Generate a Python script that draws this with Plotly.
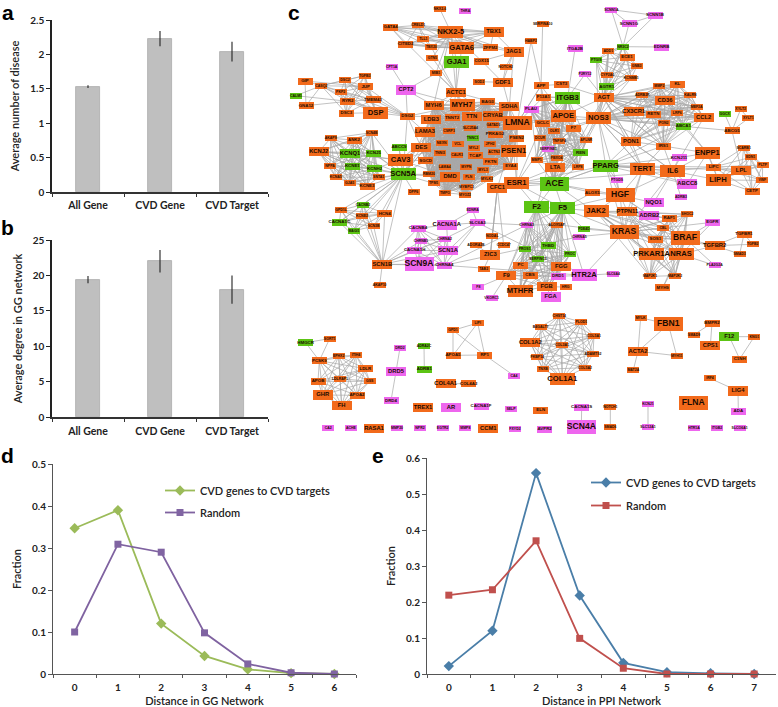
from itertools import combinations
import plotly.graph_objects as go

# ---- panels a, b
bar_categories = ["All Gene", "CVD Gene", "CVD Target"]
disease_mean = [1.53, 2.23, 2.04]
disease_err = [0.02, 0.11, 0.145]
degree_mean = [19.4, 22.0, 18.0]
degree_err = [0.5, 1.6, 2.0]

# ---- panel d
gg_distance = ["0", "1", "2", "3", "4", "5", "6"]
gg_cvd = [0.347, 0.39, 0.12, 0.043, 0.011, 0.002, 0.0]
gg_random = [0.1, 0.309, 0.29, 0.098, 0.024, 0.003, 0.0]

# ---- panel e
ppi_distance = ["0", "1", "2", "3", "4", "5", "6", "7"]
ppi_cvd = [0.022, 0.12, 0.558, 0.218, 0.031, 0.005, 0.002, 0.0]
ppi_random = [0.219, 0.234, 0.37, 0.099, 0.016, 0.0, 0.0, 0.0]

# ---- panel c: network layout, per region (gene, layout x, layout y, degree class, gene class)
net_upper_left = [
 ("NKX2-6",510,28,"xs","o"),("THRA",586,32,"xs","p"),("NKX2-5",542,95,"l","o"),("GATA4",362,82,"s","o"),
 ("CRELD1",445,76,"xs","o"),("TLL1",460,117,"xs","o"),("CITED2",407,133,"s","o"),("TBX20",484,142,"xs","o"),
 ("GATA6",575,144,"l","o"),("TBX1",671,96,"m","o"),("ZFPM2",661,143,"s","o"),("JAG1",731,156,"m","o"),
 ("GTN5",487,173,"xs","o"),("GJA1",560,186,"l","g"),("COX15",635,183,"s","o"),("NOTCH2",707,202,"xs","o"),
 ("SOD2",628,245,"xs","o"),("GDF1",698,247,"m","o"),("MIB1",498,219,"xs","o"),("CPT1A",365,202,"xs","p"),
 ("CPT2",408,270,"m","p"),("ACTC1",558,277,"m","o"),("TGFB3",284,227,"xs","o"),("DSC2",225,241,"xs","o"),
 ("CASQ2",154,257,"xs","o"),("GIP",105,243,"s","o"),("JUP",287,260,"s","o"),("PKP2",212,276,"xs","o"),
 ("RYR2",233,304,"s","o"),("TMEM43",309,299,"s","o"),("CALM1",78,287,"xs","g"),("GNA12",108,317,"s","o"),
 ("DSC3",229,340,"s","o"),("DSP",317,338,"l","o"),("DSG2",412,349,"s","o"),("MYH6",491,316,"m","o"),
 ("MYH7",576,315,"l","o"),("BAG3",653,305,"s","o"),("SDHA",718,320,"m","o"),("LDB3",484,358,"m","o"),
 ("TNNT2",546,353,"s","o"),("TTN",605,350,"m","o"),("CRYAB",668,348,"m","o"),("LMNA",742,370,"x","o"),
 ("GATAD1",670,376,"xs","o"),("PRKAG2",675,403,"s","o"),("SLC25A4",601,384,"xs","o"),("CSRP3",537,393,"xs","o"),
 ("LAMA3",465,396,"m","o"),("TNNC1",608,414,"xs","g"),("PSEN2",740,415,"s","o"),("PSEN1",731,453,"l","o"),
 ("JPH2",660,433,"xs","o"),("ACTN2",672,457,"xs","o"),("NEXN",515,430,"xs","o"),("VCL",563,431,"xs","o"),
 ("MYL2",611,443,"xs","o"),("TNNI3",510,459,"xs","o"),("CALR3",561,464,"xs","o"),("TCAP",616,467,"s","o"),
 ("FKTN",662,485,"s","o"),("EYA4",722,499,"s","o"),("DES",454,443,"m","o"),("CAV3",392,480,"l","o"),
 ("ABCC9",387,442,"s","g"),("SGCD",467,482,"s","o"),("LAMA4",524,500,"xs","o"),("MYPN",589,500,"xs","o"),
 ("MYL3",639,510,"xs","o"),("RBM20",477,523,"xs","o"),("DMD",540,531,"m","o"),("PLN",596,531,"xs","o"),
 ("MYLK3",651,537,"xs","o"),("MYBPC3",590,560,"xs","o"),("CFC1",682,564,"m","o"),("TPM1",491,550,"xs","o"),
 ("TMPO",525,578,"xs","o"),("MYOZ2",585,584,"xs","o"),("DPP6",431,575,"xs","o"),("SCN5A",399,523,"l","g"),
 ("SCN4B",305,398,"xs","o"),("AKAP9",182,415,"xs","o"),("ANK2",252,420,"s","o"),("KCNJ2",146,455,"m","o"),
 ("KCNQ1",240,461,"m","g"),("KCNJ5",311,459,"s","g"),("NPPA",180,497,"xs","o"),("KCNE1",247,499,"s","g"),
 ("KCNH2",314,506,"s","g"),("KCNA5",197,531,"xs","o"),("SNTA1",326,532,"xs","o"),("GJA5",239,548,"xs","o"),
 ("KCNE3",291,558,"s","o"),
]
net_upper_right = [
 ("SERPINA10",68,72,"xs","o"),("HABP2",33,124,"xs","o"),("ITGA2B",165,146,"s","p"),("SCNN1A",274,29,"xs","p"),
 ("SCNN1B",405,46,"s","p"),("SCNN1G",327,71,"s","p"),("NR3C2",309,140,"xs","g"),("EDNRB",425,141,"s","p"),
 ("ADD1",265,154,"xs","o"),("ECE1",321,171,"s","o"),("PTGIS",229,181,"xs","g"),("GNB3",350,199,"xs","o"),
 ("P2RY12",195,223,"xs","p"),("CYP2A6",262,225,"xs","o"),("KCNMB1",334,234,"xs","o"),("AGTR1",260,260,"s","g"),
 ("APP",63,257,"s","o"),("CST3",125,253,"s","o"),("MMP2",418,258,"xs","o"),("KL",472,252,"s","o"),
 ("F13A1",70,291,"s","o"),("ITGB3",143,293,"l","g"),("AGT",251,293,"m","o"),("ADRB2R",367,286,"xs","o"),
 ("KALRN",511,286,"xs","o"),("CD36",435,302,"m","o"),("MEF2A",530,320,"xs","o"),("PLAU",33,328,"s","p"),
 ("CX3CR1",341,334,"m","o"),("LRP6",472,338,"xs","o"),("RETN",400,342,"s","o"),("CCL2",551,353,"m","o"),
 ("GGCX",614,342,"xs","g"),("XYLT2",662,328,"xs","o"),("XYLT1",685,355,"xs","o"),("APOE",130,347,"l","o"),
 ("NOS3",235,355,"l","o"),("GCLC",68,369,"s","o"),("PON2",431,368,"xs","o"),("ABCA1",490,379,"s","g"),
 ("OLR1",103,394,"xs","o"),("F7",160,385,"s","o"),("ABCG5",636,392,"s","o"),("DCUR",60,414,"xs","o"),
 ("TNFSF4",118,423,"xs","o"),("APLNR",199,419,"xs","o"),("PON1",333,424,"m","o"),("IRS1",430,438,"s","o"),
 ("SERPINE1",85,448,"xs","p"),("REN",182,458,"s","g"),("KCNJ11",477,473,"s","p"),("ENPP1",562,459,"l","o"),
 ("SCARB1",671,443,"xs","o"),("EDN1",692,472,"xs","o"),("FBXO4",110,473,"xs","o"),("MMP1",50,481,"xs","o"),
 ("LTA",106,503,"m","o"),("LRP8",174,500,"xs","o"),("PPARG",257,497,"l","g"),("TERT",368,506,"l","o"),
 ("IL6",458,513,"l","o"),("LIPC",581,501,"s","o"),("LPL",664,511,"m","o"),("PLTP",728,495,"xs","o"),
 ("ACE",103,551,"x","g"),("LIPH",594,540,"l","o"),("VWF",727,541,"xs","o"),("ABCC8",502,552,"m","p"),
 ("PTGDS",291,541,"xs","p"),("ALOX5",217,578,"s","o"),("HGF",300,586,"x","o"),("CETP",696,574,"s","o"),
 ("ADRB3",483,592,"xs","p"),("ESR1",-10,550,"l","o"),
]
net_middle_right = [
 ("F2",50,52,"l","g"),("F5",128,55,"l","g"),("JAK2",228,64,"l","o"),("PTPN11",322,64,"m","o"),
 ("NQO1",401,38,"m","p"),("ADRB2",388,76,"m","p"),("RAF1",448,85,"s","o"),("SHOC2",502,73,"xs","o"),
 ("EGFR",577,97,"s","p"),("CHRNA3",20,105,"xs","p"),("ALOX5AP",110,104,"xs","o"),("PDE4D",192,117,"xs","g"),
 ("CHRNA5",178,140,"xs","p"),("KRAS",312,127,"x","o"),("CBL",429,114,"xs","o"),("BRAF",495,145,"x","o"),
 ("TGFBR1",672,132,"s","o"),("TGFB2",698,163,"xs","o"),("SOS1",406,147,"s","o"),("TGFBR2",584,167,"m","o"),
 ("SMAD3",659,192,"xs","o"),("THBD",84,167,"s","g"),("PROS1",14,177,"xs","g"),("PROC",150,192,"xs","g"),
 ("SERPINC1",54,207,"xs","g"),("PRKAR1A",395,193,"l","o"),("NRAS",483,193,"l","o"),("PLA2G2A",584,226,"xs","p"),
 ("FGG",124,229,"m","o"),("HTR2A",192,256,"l","p"),("SLC6A4",280,251,"xs","p"),("CBS",30,256,"s","o"),
 ("DRD1",114,259,"s","p"),("MAP2K1",390,259,"xs","o"),("MAP2K2",465,257,"xs","o"),("FGB",80,290,"m","o"),
 ("HRG",137,291,"xs","o"),("MYH9",428,293,"s","o"),("FGA",92,321,"m","p"),
]
net_middle_left = [
 ("GPD1L",213,60,"xs","o"),("CACNB2",279,44,"xs","g"),("KCNE2",276,78,"xs","o"),("HCN4",344,71,"s","o"),
 ("CACNA1C",208,96,"s","g"),("SCN3B",311,109,"xs","o"),("MAGI1",252,122,"xs","g"),("SCN1B",337,223,"m","o"),
 ("AKAP10",329,285,"xs","o"),("SCN9A",447,223,"x","p"),("CACNB4",444,115,"s","p"),("CHRNB1",453,153,"xs","p"),
 ("CHRNA2",524,146,"xs","p"),("CACNA1H",434,181,"s","p"),("SCN1A",534,182,"m","p"),("CHRNA4",523,226,"s","p"),
 ("CACNA1A",530,105,"m","p"),("EDNRA",608,61,"xs","p"),("SLC6A3",622,98,"s","p"),("ADORA2B",618,165,"xs","o"),
 ("NODAL",667,137,"xs","o"),("CCDC47",701,166,"xs","o"),("ZIC3",661,195,"m","o"),("TAB2",641,237,"xs","o"),
 ("F8",625,292,"xs","p"),("VKORC1",665,325,"xs","p"),("F9",709,257,"m","o"),("PC",752,225,"s","o"),
 ("MTHFR",750,303,"l","o"),
]
net_lower_left = [
 ("SORT1",179,86,"xs","o"),("HMGCR",107,98,"s","g"),("PCSK9",148,152,"s","o"),("EPHX2",206,138,"xs","o"),
 ("ITIH4",258,136,"xs","o"),("LDLR",286,176,"s","o"),("LDLRAP1",210,206,"xs","o"),("GSS",299,214,"xs","o"),
 ("APOB",144,214,"s","o"),("GHR",158,255,"m","o"),("APOA2",261,256,"s","o"),("FH",215,287,"m","o"),
 ("DRD2",390,113,"xs","p"),("DRD5",378,185,"m","p"),("DRD4",363,272,"s","p"),("ADRA2C",462,108,"xs","g"),
 ("ADRB1",463,178,"s","g"),("COL4A1",527,221,"m","o"),("COL4A2",596,221,"s","o"),("GPD1",549,61,"xs","o"),
 ("LIPI",623,39,"xs","o"),("APOA5",549,136,"s","o"),("RP1",644,135,"s","o"),("CA4",732,197,"xs","p"),
 ("TREX1",459,293,"m","o"),("AR",543,293,"m","p"),("CACNA1F",633,289,"s","p"),("SELP",723,298,"xs","p"),
 ("CA2",175,355,"xs","p"),("ACHE",243,355,"xs","p"),("RASA1",312,355,"m","o"),("MMP20",381,355,"xs","p"),
 ("NPR2",450,355,"xs","p"),("EGTR2",518,355,"xs","p"),("MMP8",586,355,"xs","p"),("CCM1",655,355,"m","o"),
 ("FXYD2",735,357,"xs","p"),
]
net_lower_right = [
 ("CHST14",118,18,"xs","o"),("PLOD1",184,36,"xs","o"),("B4GALT7",62,50,"xs","o"),("COL1A2",31,97,"m","o"),
 ("COL5A1",222,78,"xs","o"),("COL3A1",126,105,"xs","o"),("ADAMTS2",219,131,"xs","o"),("FKBP14",52,142,"xs","o"),
 ("TNXB",69,178,"xs","o"),("COL5A2",195,173,"xs","o"),("COL1A1",127,207,"l","o"),("MYLK",362,23,"xs","o"),
 ("FBN1",445,43,"x","o"),("ACTA2",354,124,"m","o"),("MYH11",470,137,"xs","o"),("MAT2A",340,180,"xs","o"),
 ("BMPR2",576,39,"s","o"),("SMAD9",522,74,"xs","o"),("CPS1",571,107,"m","o"),("F12",628,80,"m","g"),
 ("KNG1",703,80,"xs","o"),("C1NH",659,147,"s","o"),("IRF4",570,205,"xs","o"),("LIG4",654,243,"m","o"),
 ("ADA",655,303,"s","p"),("FLNA",520,279,"x","o"),("ELN",62,300,"s","o"),("AVPR2",74,357,"s","p"),
 ("CACNA1S",185,291,"s","p"),("SCN4A",184,350,"x","p"),("NOTCH1",271,292,"xs","o"),("SMAD6",271,350,"xs","o"),
 ("KCNJ1",384,283,"xs","p"),("SLC12A1",384,350,"xs","p"),("HTR1A",522,355,"xs","p"),("ITGB2",591,355,"xs","p"),
 ("SLCO6A1",659,355,"xs","p"),
]

# densely connected gene modules
module_cardio = ["MYH7","MYH6","TTN","TNNT2","TCAP","LDB3","CRYAB","GATAD1","PRKAG2","SLC25A4","CSRP3","LAMA3",
 "TNNC1","PSEN2","JPH2","ACTN2","NEXN","VCL","MYL2","TNNI3","CALR3","FKTN","DES","SGCD","LAMA4","MYPN","MYL3",
 "RBM20","DMD","PLN","MYLK3","MYBPC3","LMNA","BAG3","SDHA","EYA4","PSEN1","TPM1","TMPO","MYOZ2"]
module_channel = ["SCN4B","AKAP9","ANK2","KCNJ2","KCNQ1","KCNJ5","NPPA","KCNE1","KCNH2","KCNA5","SNTA1","GJA5","KCNE3"]
module_dsp = ["TGFB3","DSC2","JUP","PKP2","RYR2","TMEM43","DSC3","DSP","CASQ2"]
module_scn = ["CACNB2","GPD1L","KCNE2","HCN4","CACNA1C","SCN3B","MAGI1"]
module_neuro = ["SCN9A","CACNB4","CHRNB1","CHRNA2","CACNA1H","SCN1A","CHRNA4"]
module_lipo = ["PCSK9","EPHX2","ITIH4","LDLR","LDLRAP1","GSS","APOB","GHR","APOA2","FH"]
module_col = ["CHST14","PLOD1","B4GALT7","COL1A2","COL5A1","COL3A1","ADAMTS2","FKBP14","TNXB","COL5A2","COL1A1"]
module_coag = ["F9","PC","CBS","FGB","FGG","DRD1","MTHFR","F2","F5","THBD","PROS1","SERPINC1","PROC","ALOX5AP","CHRNA3"]
module_ras = ["KRAS","NRAS","BRAF","RAF1","SOS1","CBL","PTPN11","PRKAR1A","SHOC2","MAP2K1","MAP2K2","JAK2"]
module_nos = ["NOS3","AGT","CX3CR1","RETN","CD36","PON2","LRP6","MMP2","KL","KALRN","ADRB2R","PON1","IRS1","ABCA1","CCL2","MEF2A"]
module_apoe = ["APOE","F13A1","ITGB3","GCLC","OLR1","F7","DCUR","TNFSF4","APLNR","SERPINE1","REN","FBXO4","MMP1","LTA","LRP8","ACE","PLAU"]
module_bp = ["ADD1","ECE1","PTGIS","GNB3","CYP2A6","KCNMB1","AGTR1","NR3C2","AGT"]
module_lip = ["LIPC","LPL","LIPH","CETP","VWF","PLTP","EDN1","SCARB1"]
module_top = ["GATA4","NKX2-5","GATA6","TBX1","TBX20","CITED2","CRELD1","TLL1","ZFPM2"]

hub_links = {
 "SCN5A": ["CAV3","ABCC9","DES","LAMA3","SGCD","DMD","RBM20","TPM1","DSG2","KCNQ1","KCNH2","KCNE1","KCNE3","SNTA1","GJA5",
           "KCNJ5","CACNA1C","HCN4","SCN3B","CACNB2","GPD1L","MAGI1","KCNE2","SCN1B","SCN4B","ANK2","DPP6","MYH7","TNNT2"],
 "SCN1B": ["CACNB2","GPD1L","KCNE2","HCN4","CACNA1C","SCN3B","MAGI1","AKAP10","SCN9A","CACNB4","CHRNB1","CHRNA2","CACNA1H","SCN1A","CHRNA4"],
 "CAV3": ["ABCC9","DES","DMD","LMNA","TTN","MYH7","SGCD","KCNH2","KCNJ2","KCNQ1"],
 "DSG2": ["DSP","DSC2","JUP","PKP2","TMEM43","MYH7","LAMA3","DES","TTN","RYR2"],
 "ACTC1": ["MYH7","MYH6","TTN","TNNT2","GATA4","NKX2-5","MIB1","GJA1","GATA6","TBX20","CRYAB","SDHA","LDB3","TCAP","GTN5"],
 "NKX2-5": ["GJA1","NKX2-6","JAG1","ZFPM2","COX15","GTN5","MIB1","MYH6"],
 "JAG1": ["NOTCH2","GDF1","SDHA","ZFPM2","TBX1","COX15"],
 "GDF1": ["NOTCH2","SOD2","SDHA","COX15"],
 "CPT2": ["CPT1A","MYH6","MYH7","DSG2","GJA1"],
 "LMNA": ["APP","HABP2","ESR1","APOE","CFC1","NOS3","PLAU"],
 "ESR1": ["PSEN1","ACE","LTA","APOE","GCLC","IL6","CFC1","F2","F5","PPARG"],
 "NOS3": ["APOE","ITGB3","PPARG","TERT","REN","HGF","ACE","ECE1","ADD1","IL6","CCL2","ABCA1","KCNMB1","F7","AGTR1","OLR1","PTGIS"],
 "AGT": ["P2RY12","CST3","APOE","REN","ACE","PON1","IRS1","TERT","CD36"],
 "ITGB3": ["ITGA2B","P2RY12","F13A1","PLAU","APOE","F2"],
 "APP": ["F13A1","SERPINA10","HABP2","APOE","CST3","GCLC","LMNA"],
 "NR3C2": ["SCNN1A","SCNN1B","SCNN1G","EDNRB","ADD1"],
 "SCNN1A": ["SCNN1B","SCNN1G"],
 "SCNN1B": ["SCNN1G"],
 "PPARG": ["TERT","IL6","ABCA1","PON1","ACE","KRAS","HGF","LIPC","LPL","IRS1","KCNJ11","ABCC8","PTGDS"],
 "IL6": ["TERT","ENPP1","LIPC","HGF","IRS1","PON1","KCNJ11","KRAS","ADRB3","NQO1","ABCC8","CCL2","LIPH"],
 "ENPP1": ["LIPC","IRS1","KCNJ11","ABCC8","LIPH","CD36","ABCA1"],
 "TERT": ["HGF","ABCC8","KRAS","PON1","IRS1","NOS3","PTPN11"],
 "HGF": ["KRAS","JAK2","ACE","PTPN11","BRAF","PTGDS","ALOX5","ADRB2","NQO1"],
 "ABCG5": ["ABCA1","XYLT1","XYLT2","GGCX","LPL"],
 "XYLT1": ["XYLT2"],
 "ACE": ["F2","F5","REN","LTA","KRAS","PPARG","ALOX5","CFC1"],
 "KRAS": ["F5","PDE4D","CHRNA5","JAK2","ALOX5AP","TGFBR2","EGFR","ADRB2","HTR2A"],
 "F5": ["HGF","ALOX5","JAK2","PDE4D","FGG","FGA","HTR2A"],
 "BRAF": ["TGFBR2","EGFR","PLA2G2A","MYH9","ADRB2"],
 "NRAS": ["TGFBR2","PLA2G2A","MYH9","EGFR"],
 "TGFBR2": ["TGFBR1","TGFB2","SMAD3"],
 "TGFBR1": ["SMAD3","TGFB2"],
 "HTR2A": ["SLC6A4","DRD1","SLC6A3","CHRNA4"],
 "FGB": ["FGA","HRG","FGG"],
 "F9": ["F8","VKORC1"],
 "ZIC3": ["TAB2","NODAL","CFC1","CCDC47","ADORA2B"],
 "SLC6A3": ["SCN1A","CHRNA2","CHRNA3","CACNA1A","EDNRA","CHRNA4"],
 "CACNA1A": ["CACNB4","EDNRA","SCN1A"],
 "CFC1": ["NODAL","ZIC3","CCDC47"],
 "CHRNA4": ["CHRNA3","CHRNA5"],
 "CALM1": ["CASQ2","RYR2"],
 "GNA12": ["CASQ2","RYR2","GIP"],
 "GIP": ["CASQ2","JUP"],
 "HMGCR": ["SORT1","PCSK9"],
 "SORT1": ["PCSK9"],
 "DRD5": ["DRD2","DRD4"],
 "ADRA2C": ["ADRB1"],
 "COL4A1": ["COL4A2"],
 "GPD1": ["LIPI","APOA5","RP1"],
 "LIPI": ["APOA5","RP1"],
 "RP1": ["APOA5","CA4"],
 "MYLK": ["FBN1","ACTA2"],
 "FBN1": ["ACTA2","MYH11"],
 "ACTA2": ["MYH11","MAT2A"],
 "BMPR2": ["SMAD9","CPS1"],
 "F12": ["KNG1","C1NH"],
 "KNG1": ["C1NH"],
 "IRF4": ["LIG4"],
 "LIG4": ["ADA"],
 "CACNA1S": ["SCN4A"],
 "NOTCH1": ["SMAD6"],
 "KCNJ1": ["SLC12A1"],
}
gene_modules = [module_cardio, module_channel, module_dsp, module_scn, module_neuro, module_lipo, module_col,
                module_coag, module_ras, module_nos, module_apoe, module_bp, module_lip, module_top]

# ---- network drawing
regions = [(net_upper_left, 270, 0), (net_upper_right, 520, 0), (net_middle_right, 520, 190),
           (net_middle_left, 270, 190), (net_lower_left, 270, 310), (net_lower_right, 520, 310)]
BOX_W = {"xs": 12, "s": 15, "m": 20, "l": 25, "x": 29}
BOX_H = {"xs": 6, "s": 7, "m": 9.5, "l": 12, "x": 14}
FONT = {"xs": 3.5, "s": 4.4, "m": 5.8, "l": 7.6, "x": 8.6}
FILL = {"o": "#F26A1B", "g": "#5CC414", "p": "#EE66EE"}
nodes = []
for rows, ox, oy in regions:
    for name, zx, zy, size, kind in rows:
        nodes.append((name, ox + zx / 3, oy + zy / 3, size, kind))
pos = {n[0]: (n[1], n[2]) for n in nodes}
ex, ey = [], []
def link(a, b):
    ex.extend([pos[a][0], pos[b][0], None])
    ey.extend([pos[a][1], pos[b][1], None])
for module in gene_modules:
    for a, b in combinations(module, 2):
        link(a, b)
for a, others in hub_links.items():
    for b in others:
        link(a, b)

fig = go.Figure()
BAR = "#BFBFBF"
fig.add_trace(go.Bar(x=bar_categories, y=disease_mean, width=0.32, marker=dict(color=BAR, line=dict(color="#ABABAB", width=0.8)),
                     error_y=dict(type="data", array=disease_err, color="#222", thickness=1.1, width=0),
                     xaxis="x", yaxis="y", showlegend=False))
fig.add_trace(go.Bar(x=bar_categories, y=degree_mean, width=0.32, marker=dict(color=BAR, line=dict(color="#ABABAB", width=0.8)),
                     error_y=dict(type="data", array=degree_err, color="#222", thickness=1.1, width=0),
                     xaxis="x2", yaxis="y2", showlegend=False))
fig.add_trace(go.Scatter(x=gg_distance, y=gg_cvd, name="CVD genes to CVD targets", mode="lines+markers", cliponaxis=False,
                         line=dict(color="#9BBB59", width=1.8), marker=dict(symbol="diamond", size=8, color="#9BBB59"),
                         xaxis="x3", yaxis="y3", legend="legend", legendgroup="d1"))
fig.add_trace(go.Scatter(x=gg_distance, y=gg_random, name="Random", mode="lines+markers", cliponaxis=False,
                         line=dict(color="#7F62A0", width=1.8), marker=dict(symbol="square", size=7, color="#8064A2"),
                         xaxis="x3", yaxis="y3", legend="legend", legendgroup="d2"))
fig.add_trace(go.Scatter(x=ppi_distance, y=ppi_cvd, name="CVD genes to CVD targets", mode="lines+markers", cliponaxis=False,
                         line=dict(color="#4A7EA8", width=1.8), marker=dict(symbol="diamond", size=8, color="#4A7EA8"),
                         xaxis="x4", yaxis="y4", legend="legend2", legendgroup="e1"))
fig.add_trace(go.Scatter(x=ppi_distance, y=ppi_random, name="Random", mode="lines+markers", cliponaxis=False,
                         line=dict(color="#C0504D", width=1.8), marker=dict(symbol="square", size=7, color="#C0504D"),
                         xaxis="x4", yaxis="y4", legend="legend2", legendgroup="e2"))
fig.add_trace(go.Scatter(x=ex, y=ey, mode="lines", line=dict(color="#A8A8A8", width=0.7), hoverinfo="skip",
                         xaxis="x5", yaxis="y5", showlegend=False))
fig.add_trace(go.Bar(orientation="h", y=[n[2] for n in nodes], x=[BOX_W[n[3]] for n in nodes],
                     base=[n[1] - BOX_W[n[3]] / 2 for n in nodes], width=[BOX_H[n[3]] for n in nodes],
                     marker=dict(color=[FILL[n[4]] for n in nodes], line=dict(width=0), cornerradius=1.5),
                     hovertext=[n[0] for n in nodes], hoverinfo="text", xaxis="x6", yaxis="y6", showlegend=False))
fig.add_trace(go.Scatter(x=[n[1] for n in nodes], y=[n[2] for n in nodes], text=[n[0] for n in nodes], mode="text",
                         textposition="middle center", hoverinfo="skip", xaxis="x6", yaxis="y6", showlegend=False,
                         textfont=dict(family="Liberation Sans", size=[FONT[n[3]] for n in nodes], color="#1A0A00", weight="bold")))

W, H = 778, 707
def dx(a, b): return [a / W, b / W]
def dy(top, bottom): return [1 - bottom / H, 1 - top / H]

TICK = dict(family="Lato", size=10, color="#222", weight="bold")
TITLE = dict(family="Lato", size=11, color="#222", weight=600)
LEGEND_FONT = dict(family="Lato", size=11, color="#222", weight=600)
def xax(domain, anchor, text, standoff, lw, lc, **kw):
    d = dict(domain=domain, anchor=anchor, type="category", tickson="boundaries", ticks="outside", ticklen=3,
             tickcolor=lc, tickwidth=1, showline=True, linecolor=lc, linewidth=lw, showgrid=False, zeroline=False,
             tickfont=TICK, fixedrange=True)
    if text:
        d["title"] = dict(text=text, font=TITLE, standoff=standoff)
    d.update(kw)
    return d
def yax(domain, anchor, rng, dtick, text, standoff, lw, lc):
    return dict(domain=domain, anchor=anchor, range=rng, dtick=dtick, ticks="outside", ticklen=4, tickcolor=lc,
                tickwidth=1, showline=True, linecolor=lc, linewidth=lw, showgrid=False, zeroline=False, tickfont=TICK,
                title=dict(text=text, font=TITLE, standoff=standoff), fixedrange=True)

hidden = dict(domain=[0, 1], visible=False, fixedrange=True)
fig.update_layout(
    width=W, height=H, margin=dict(l=0, r=0, t=0, b=0, autoexpand=False), autosize=False, barmode="overlay",
    paper_bgcolor="white", plot_bgcolor="rgba(0,0,0,0)", bargap=0,
    xaxis=xax(dx(52, 268), "y", None, 0, 2, "#333", ticklabelstandoff=2, tickfont=dict(TICK, size=10.5)),
    yaxis=yax(dy(20, 192), "x", [0, 2.5], 0.5, "Average number of disease", 8, 1.5, "#222"),
    xaxis2=xax(dx(52, 268), "y2", None, 0, 2, "#333", ticklabelstandoff=3, tickfont=dict(TICK, size=10.5)),
    yaxis2=yax(dy(240, 417), "x2", [0, 25], 5, "Average degree in GG network", 8, 1.5, "#222"),
    xaxis3=xax(dx(53, 356), "y3", "Distance in GG Network", 9, 1, "#555", range=[-0.5, 6.5], ticklabelstandoff=4),
    yaxis3=yax(dy(464, 674), "x3", [0, 0.5], 0.1, "Fraction", 8, 1, "#555"),
    xaxis4=xax(dx(427, 776), "y4", "Distance in PPI Network", 10, 1, "#555", range=[-0.5, 7.5], ticklabelstandoff=4),
    yaxis4=yax(dy(458, 674), "x4", [0, 0.6], 0.1, "Fraction", 8, 1, "#555"),
    xaxis5=dict(hidden, range=[0, W], anchor="y5"),
    yaxis5=dict(hidden, range=[H, 0], anchor="x5"),
    xaxis6=dict(hidden, range=[0, W], anchor="y6", overlaying="x5"),
    yaxis6=dict(hidden, range=[H, 0], anchor="x6", overlaying="y5"),
    legend=dict(x=160 / W, y=1 - 476 / H, xanchor="left", yanchor="top", bgcolor="rgba(0,0,0,0)", font=LEGEND_FONT, tracegroupgap=3),
    legend2=dict(x=586 / W, y=1 - 468 / H, xanchor="left", yanchor="top", bgcolor="rgba(0,0,0,0)", font=LEGEND_FONT, tracegroupgap=4),
    hovermode="closest",
)
panel_letters = [("a", 8, 12.5), ("b", 8, 227), ("c", 294, 12.5), ("d", 8, 456), ("e", 378, 456)]
for letter, px, py in panel_letters:
    fig.add_annotation(text=letter, x=px / W, y=1 - py / H, xref="paper", yref="paper", showarrow=False,
                       xanchor="center", yanchor="middle",
                       font=dict(family="Liberation Sans", size=21, color="black", weight="bold"))

fig.write_html("out.html", config=dict(displayModeBar=False),
               post_script="document.body.style.margin='0';document.body.style.overflow='hidden';")
